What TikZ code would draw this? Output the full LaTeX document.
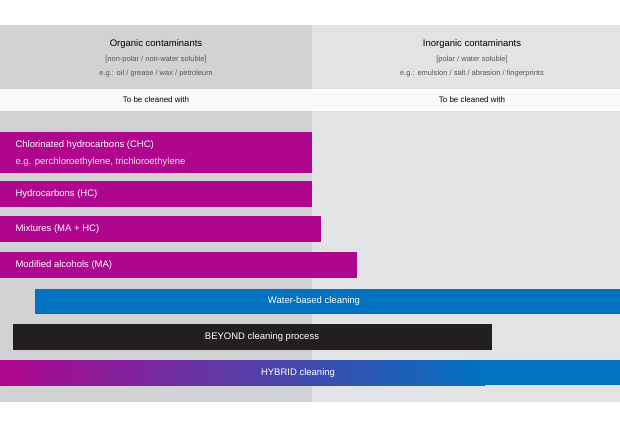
\documentclass[tikz,border=0pt]{standalone}
\usepackage{fontspec}
\setmainfont{Liberation Sans}
\definecolor{magen}{HTML}{B0068E}
\definecolor{wblue}{HTML}{0072C0}
\definecolor{lgray}{HTML}{D1D2D4}
\definecolor{rgray}{HTML}{E2E3E5}
\definecolor{sub}{HTML}{555555}
\definecolor{dark}{HTML}{231F20}
\begin{document}
\begin{tikzpicture}[x=1pt,y=-1pt,
  bar/.style={inner sep=0pt},
  btxt/.style={text=white,font=\fontsize{9.5}{11}\selectfont,anchor=west},
  ctxt/.style={text=white,font=\fontsize{9.5}{11}\selectfont}]
\useasboundingbox (0,0) rectangle (620,427);
\fill[white] (0,0) rectangle (620,427);
\fill[lgray] (0,25) rectangle (312,402);
\fill[rgray] (312,25) rectangle (620,402);
\fill[white!96!gray] (0,89) rectangle (620,111);
\node[font=\fontsize{9.5}{11}\selectfont] (ht1) at (156,44) {Organic contaminants};
\node[font=\fontsize{7.5}{9}\selectfont,text=sub] (s1) at (156,60) {[non-polar / non-water soluble]};
\node[font=\fontsize{7.5}{9}\selectfont,text=sub] (e1) at (156,74) {e.g.: oil / grease / wax / petroleum};
\node[font=\fontsize{9.5}{11}\selectfont] (ht2) at (472,44) {Inorganic contaminants};
\node[font=\fontsize{7.5}{9}\selectfont,text=sub] (s2) at (472,60) {[polar / water soluble]};
\node[font=\fontsize{7.5}{9}\selectfont,text=sub] (e2) at (472,74) {e.g.: emulsion / salt / abrasion / fingerprints};
\node[font=\fontsize{8}{10}\selectfont] (c1) at (156,100) {To be cleaned with};
\node[font=\fontsize{8}{10}\selectfont] (c2) at (472,100) {To be cleaned with};
\fill[magen] (0,132) rectangle (312,173);
\node[btxt] (chc) at (12,145) {Chlorinated hydrocarbons (CHC)};
\node[btxt,text=white!85!magen] (chc2) at (12,162) {e.g. perchloroethylene, trichloroethylene};
\fill[magen] (0,181) rectangle (312,207);
\node[btxt] (hc) at (12,194) {Hydrocarbons (HC)};
\fill[magen] (0,216) rectangle (321,242);
\node[btxt] (mix) at (12,229) {Mixtures (MA + HC)};
\fill[magen] (0,252) rectangle (357,278);
\node[btxt] (ma) at (12,265) {Modified alcohols (MA)};
\fill[wblue] (35,289) rectangle (620,314);
\node[ctxt] (wb) at (314,301) {Water-based cleaning};
\fill[dark] (13,324) rectangle (492,350);
\node[ctxt] (by) at (262,337) {BEYOND cleaning process};
\shade[left color=magen,right color=wblue] (0,360) rectangle (485,385);
\fill[wblue] (484,360) rectangle (620,385);
\node[ctxt] (hy) at (298,373) {HYBRID cleaning};
\end{tikzpicture}
\end{document}
